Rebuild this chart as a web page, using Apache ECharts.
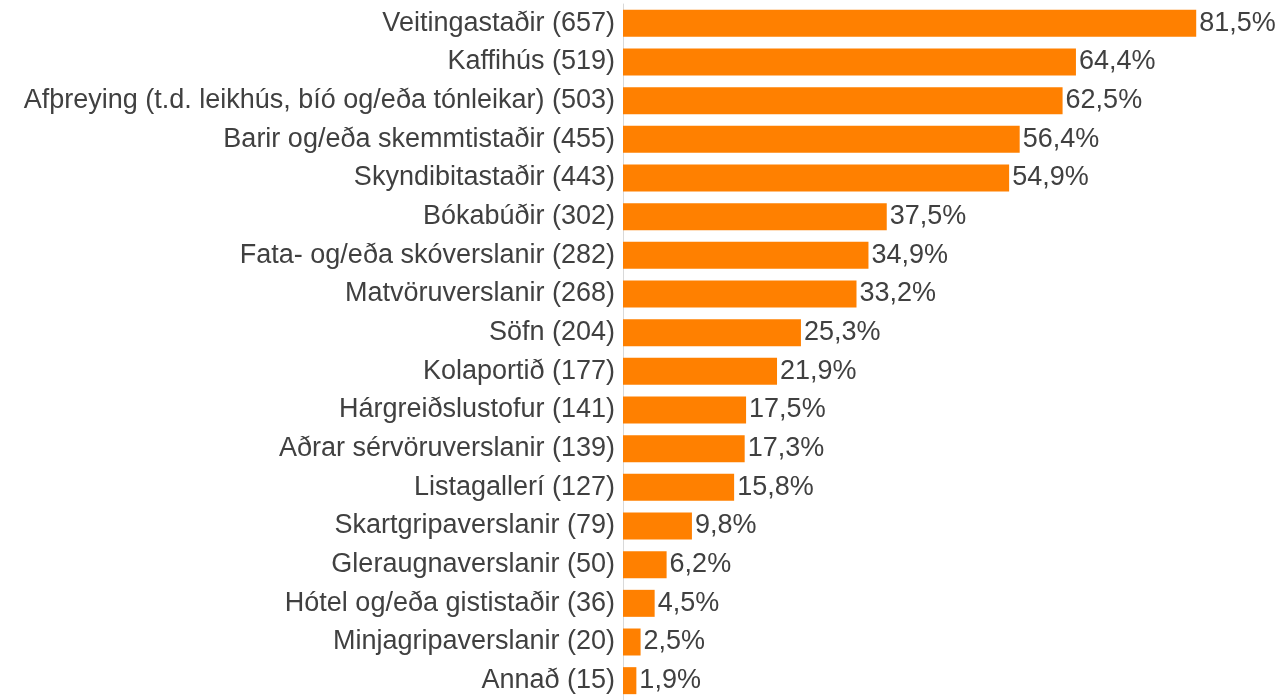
<!DOCTYPE html>
<html>
<head>
<meta charset="utf-8">
<script src="https://cdn.jsdelivr.net/npm/echarts@6/dist/echarts.min.js"></script>
<style>
  html, body { margin: 0; padding: 0; background: #fff; }
  #chart { width: 1286px; height: 700px; }
</style>
</head>
<body>
<div id="chart"></div>
<script>
// flokkar og fjöldi svara
const categories = [
  'Veitingastaðir (657)',
  'Kaffihús (519)',
  'Afþreying (t.d. leikhús, bíó og/eða tónleikar) (503)',
  'Barir og/eða skemmtistaðir (455)',
  'Skyndibitastaðir (443)',
  'Bókabúðir (302)',
  'Fata- og/eða skóverslanir (282)',
  'Matvöruverslanir (268)',
  'Söfn (204)',
  'Kolaportið (177)',
  'Hárgreiðslustofur (141)',
  'Aðrar sérvöruverslanir (139)',
  'Listagallerí (127)',
  'Skartgripaverslanir (79)',
  'Gleraugnaverslanir (50)',
  'Hótel og/eða gististaðir (36)',
  'Minjagripaverslanir (20)',
  'Annað (15)'
];
const percents = [81.5, 64.4, 62.5, 56.4, 54.9, 37.5, 34.9, 33.2, 25.3, 21.9, 17.5, 17.3, 15.8, 9.8, 6.2, 4.5, 2.5, 1.9];

const chart = echarts.init(document.getElementById('chart'));
const textColor = '#404040';
const font = 'Liberation Sans, Arial, sans-serif';

chart.setOption({
  animation: false,
  grid: { left: 623, top: 4, width: 633, height: 703, containLabel: false },
  xAxis: {
    type: 'value',
    min: 0,
    max: 90,
    show: false
  },
  yAxis: {
    type: 'category',
    inverse: true,
    data: categories,
    axisLine: { show: true, lineStyle: { color: '#D9D9D9', width: 1 } },
    axisTick: { show: false },
    axisLabel: { color: textColor, fontSize: 27, fontFamily: font, margin: 8 }
  },
  series: [{
    type: 'bar',
    data: percents,
    barWidth: 27,
    itemStyle: { color: '#FF8000' },
    label: {
      show: true,
      position: 'right',
      distance: 3,
      color: textColor,
      fontSize: 27,
      fontFamily: font,
      formatter: p => p.value.toFixed(1).replace('.', ',') + '%'
    }
  }]
});
</script>
</body>
</html>
